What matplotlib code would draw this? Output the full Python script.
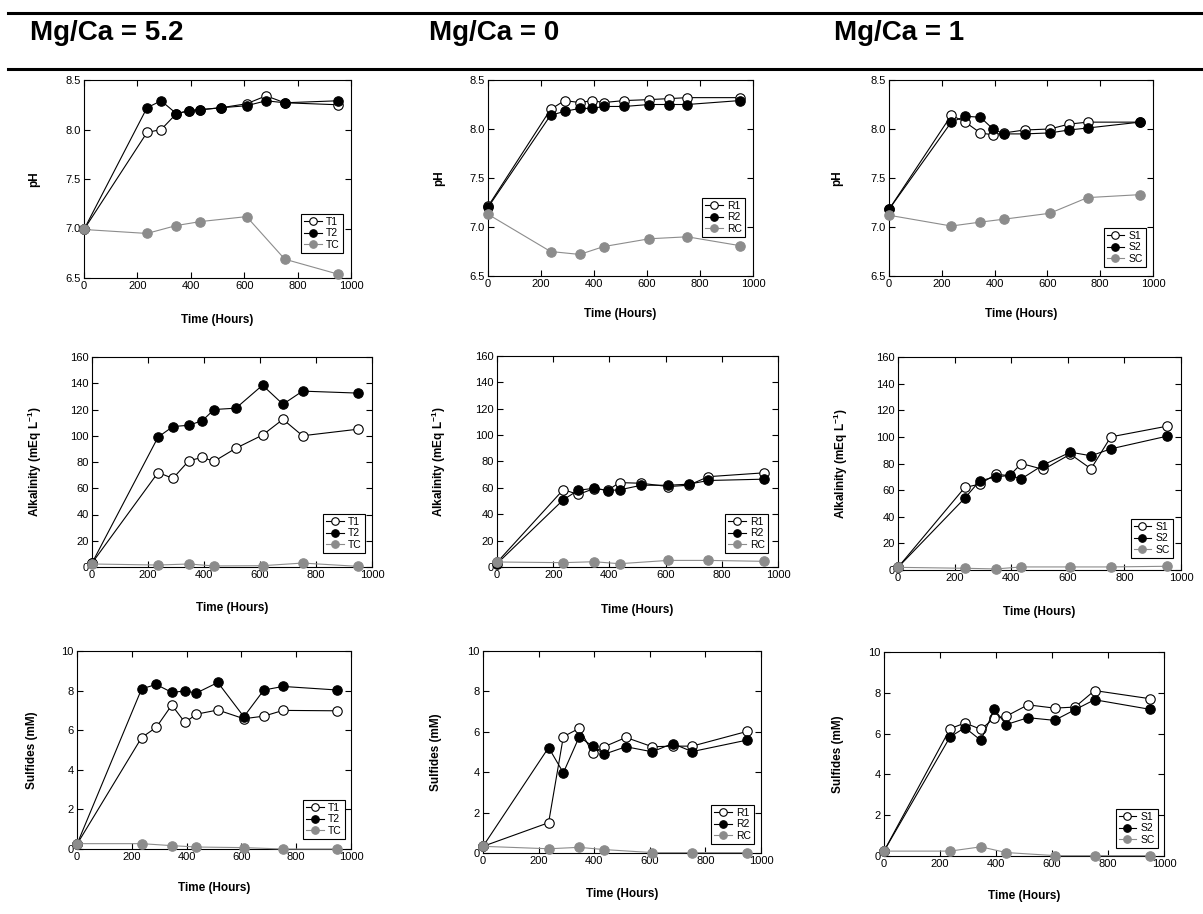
import matplotlib.pyplot as plt
from matplotlib.lines import Line2D

plt.rcParams["font.family"] = ["Liberation Sans", "DejaVu Sans"]
plt.rcParams["mathtext.fontset"] = "custom"
plt.rcParams["mathtext.rm"] = "Liberation Sans"
plt.rcParams["mathtext.bf"] = "Liberation Sans:bold"

# Sampling times [h]; controls were sampled less often.
times = [0, 236, 289, 346, 394, 436, 514, 609, 682, 752, 950]
times_ctrl = [0, 236, 346, 436, 609, 752, 950]

# pH
ph_t1 = [6.99, 7.97, 8.00, 8.16, 8.19, 8.20, 8.22, 8.26, 8.34, 8.27, 8.25]
ph_t2 = [6.99, 8.22, 8.29, 8.16, 8.19, 8.20, 8.22, 8.24, 8.29, 8.27, 8.29]
ph_tc = [6.99, 6.95, 7.03, 7.07, 7.12, 6.69, 6.54]
ph_r1 = [7.21, 8.20, 8.29, 8.27, 8.29, 8.27, 8.29, 8.30, 8.31, 8.32, 8.32]
ph_r2 = [7.20, 8.14, 8.18, 8.21, 8.21, 8.23, 8.23, 8.25, 8.25, 8.25, 8.29]
ph_rc = [7.13, 6.75, 6.72, 6.80, 6.88, 6.90, 6.81]
ph_s1 = [7.18, 8.14, 8.07, 7.96, 7.94, 7.96, 7.99, 8.00, 8.05, 8.07, 8.07]
ph_s2 = [7.18, 8.07, 8.13, 8.12, 8.00, 7.95, 7.95, 7.96, 7.99, 8.01, 8.07]
ph_sc = [7.12, 7.01, 7.05, 7.08, 7.14, 7.30, 7.33]

# Alkalinity [mEq/L]
alk_t1 = [3, 72, 67.5, 81, 83.5, 80.5, 90.5, 100.5, 112.5, 100, 105]
alk_t2 = [3, 99, 107, 108, 111.5, 120, 121, 138.5, 124, 134, 132.5]
alk_tc = [2.3, 1.5, 2.3, 0.8, 1.0, 3.0, 0.5]
alk_r1 = [3.5, 58.7, 55, 59.5, 58.2, 64, 63.5, 61, 62, 68.5, 71.4]
alk_r2 = [2.5, 51, 58.2, 59.7, 58, 58.5, 62, 62, 62.8, 65.6, 66.6]
alk_rc = [3.8, 3.3, 4.0, 2.5, 5.0, 5.0, 4.3]
alk_s1 = [2, 62, 64.5, 72, 70.8, 80, 75.5, 87, 76, 100, 108]
alk_s2 = [2, 54, 67, 70, 71, 68.5, 79, 88.5, 85.8, 91, 100.5]
alk_sc = [2, 1.3, 0.8, 2.3, 2.3, 2.3, 2.8]

# Sulfides [mM]
sul_t1 = [0.24, 5.63, 6.14, 7.27, 6.39, 6.81, 7.02, 6.58, 6.71, 7.00, 6.98]
sul_t2 = [0.24, 8.09, 8.31, 7.91, 7.98, 7.88, 8.41, 6.68, 8.03, 8.21, 8.03]
sul_tc = [0.27, 0.27, 0.17, 0.10, 0.07, 0.0, 0.0]
sul_r1 = [0.33, 1.50, 5.76, 6.17, 4.96, 5.26, 5.72, 5.26, 5.29, 5.29, 6.02]
sul_r2 = [0.33, 5.22, 3.97, 5.75, 5.29, 4.89, 5.26, 5.01, 5.42, 5.02, 5.59]
sul_rc = [0.33, 0.21, 0.28, 0.17, 0.02, 0.02, 0.02]
sul_s1 = [0.24, 6.24, 6.52, 6.21, 6.76, 6.85, 7.41, 7.25, 7.30, 8.11, 7.71]
sul_s2 = [0.24, 5.84, 6.29, 5.67, 7.19, 6.44, 6.78, 6.65, 7.17, 7.66, 7.19]
sul_sc = [0.24, 0.24, 0.45, 0.17, 0.02, 0.02, 0.02]

titles = ["Mg/Ca = 5.2", "Mg/Ca = 0", "Mg/Ca = 1"]
series_names = [["T1", "T2", "TC"], ["R1", "R2", "RC"], ["S1", "S2", "SC"]]

W, H = 1203, 914
GREY = "#8c8c8c"
MS = 6.8

fig = plt.figure(figsize=(W / 100, H / 100), dpi=100)

# Header band with the Mg/Ca ratio of each column.
fig.add_artist(Line2D([8 / W, 1], [1 - 13 / H] * 2, color="k", lw=2.2))
fig.add_artist(Line2D([8 / W, 1], [1 - 69 / H] * 2, color="k", lw=2.2))
for title, x in zip(titles, [30, 429, 834]):
    fig.text(x / W, 1 - 33 / H, title, fontsize=20, fontweight="bold",
             ha="left", va="center")

# Panel boxes in pixels: left, top, right, bottom.
boxes = [
    [(84, 80, 351, 278), (488, 80, 753, 276), (889, 80, 1153, 276)],
    [(92, 357, 372, 567), (497, 356, 778, 567), (898, 357, 1181, 570)],
    [(77, 651, 351, 849), (483, 651, 761, 853), (884, 652, 1164, 856)],
]
# Distance from the axes to the ylabel centre / xlabel centre.
ylabel_dx = [[49, 48, 51], [54, 54, 53], [45, 46, 46]]
xlabel_dy = [[41, 38, 38], [41, 43, 42], [38, 40, 40]]
# Legend gap from the right and bottom of the axes.
legend_gap = [
    [(8, 25), (8, 39), (7, 9)],
    [(7, 14), (10, 14), (8, 12)],
    [(6, 10), (7, 9), (6, 8)],
]

data = [
    [(ph_t1, ph_t2, ph_tc), (ph_r1, ph_r2, ph_rc), (ph_s1, ph_s2, ph_sc)],
    [(alk_t1, alk_t2, alk_tc), (alk_r1, alk_r2, alk_rc), (alk_s1, alk_s2, alk_sc)],
    [(sul_t1, sul_t2, sul_tc), (sul_r1, sul_r2, sul_rc), (sul_s1, sul_s2, sul_sc)],
]
ylabels = ["pH", r"Alkalinity (mEq L$^{\mathbf{-1}}$)", "Sulfides (mM)"]
ylims = [(6.5, 8.5), (0, 160), (0, 10)]
yticks = [[6.5, 7.0, 7.5, 8.0, 8.5], list(range(0, 161, 20)), list(range(0, 11, 2))]
yfmt = ["{:.1f}", "{:d}", "{:d}"]

for row in range(3):
    for col in range(3):
        l, t, r, b = boxes[row][col]
        w, h = r - l, b - t
        ax = fig.add_axes([l / W, 1 - b / H, w / W, h / H])
        s1, s2, sc = data[row][col]
        n1, n2, nc = series_names[col]

        ax.plot(times, s1, "-o", color="k", mfc="white", mec="k", ms=MS,
                mew=0.8, lw=0.8, label=n1, clip_on=False, zorder=3)
        ax.plot(times, s2, "-o", color="k", mfc="k", mec="k", ms=MS,
                mew=0.8, lw=0.8, label=n2, clip_on=False, zorder=4)
        ax.plot(times_ctrl, sc, "-o", color=GREY, mfc=GREY, mec=GREY, ms=MS,
                mew=0.8, lw=0.8, label=nc, clip_on=False, zorder=5)

        ax.set_xlim(0, 1000)
        ax.set_ylim(*ylims[row])
        ax.set_xticks(range(0, 1001, 200))
        ax.set_yticks(yticks[row])
        ax.set_yticklabels([yfmt[row].format(v) for v in yticks[row]])
        ax.tick_params(direction="in", top=True, right=True, length=4,
                       width=0.8, labelsize=8, pad=2.5)
        for spine in ax.spines.values():
            spine.set_linewidth(0.8)

        ax.set_xlabel("Time (Hours)", fontsize=8.5, fontweight="bold")
        ax.set_ylabel(ylabels[row], fontsize=8.5, fontweight="bold")
        ax.xaxis.set_label_coords(0.5, -(xlabel_dy[row][col] - 5.5) / h)
        ax.yaxis.set_label_coords(-(ylabel_dx[row][col] - 5.5) / w, 0.5)

        gx, gy = legend_gap[row][col]
        leg = ax.legend(loc="lower right", bbox_to_anchor=(1 - gx / w, gy / h),
                        borderaxespad=0, fontsize=7.5, fancybox=False,
                        framealpha=1, edgecolor="k", borderpad=0.3,
                        labelspacing=0.15, handlelength=1.7,
                        handletextpad=0.4, markerscale=0.8)
        leg.get_frame().set_linewidth(0.8)
        leg.set_zorder(10)

fig.savefig("out.png", dpi=100)
